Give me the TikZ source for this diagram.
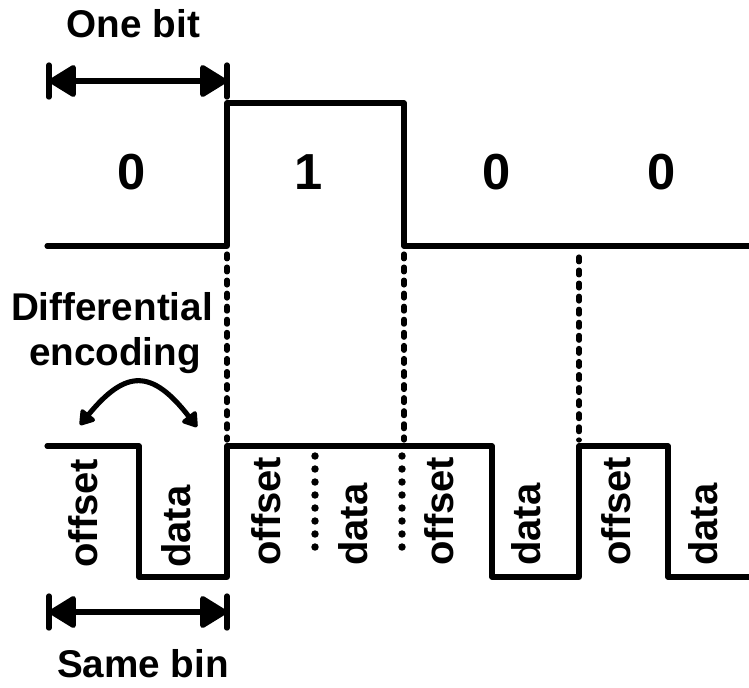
\documentclass[tikz,border=0pt]{standalone}
\usepackage{fontspec}
\setmainfont{Liberation Sans}
\usetikzlibrary{arrows.meta}
\begin{document}
\begin{tikzpicture}[x=0.75pt,y=-0.75pt,
  sig/.style={line width=3.8pt, line join=round, line cap=round},
  guide/.style={line width=3.9pt, line cap=round, dash pattern=on 3.6pt off 6.2pt},
  dotline/.style={line width=5.6pt, line cap=round, dash pattern=on 0pt off 9.75pt},
  lbl/.style={font=\fontsize{29}{34}\selectfont\bfseries, inner sep=0pt, anchor=base},
  bitlbl/.style={font=\fontsize{38}{40}\selectfont\bfseries, inner sep=0pt},
  rlbl/.style={font=\fontsize{30}{34}\selectfont\bfseries, inner sep=0pt, rotate=90, anchor=base west},
  dim/.style={line width=3.8pt, {Triangle[length=22pt,width=26pt,round]}-{Triangle[length=22pt,width=26pt,round]}},
  barend/.style={line width=4pt, line cap=round},
  curv/.style={line width=3.8pt, {Triangle[length=12pt,width=15pt,round]}-{Triangle[length=12pt,width=15pt,round]}}
]
\useasboundingbox (0,0) rectangle (749,687);

% top signal
\draw[sig] (47,246) -- (227,246) -- (227,103) -- (404,103) -- (404,246) -- (752,246);
% bottom signal
\draw[sig] (47,446) -- (139,446) -- (139,577) -- (227,577) -- (227,446) -- (492,446) -- (492,577) -- (579,577) -- (579,446) -- (668,446) -- (668,577) -- (752,577);

% dashed guides
\draw[guide] (227,254) -- (227,440);
\draw[guide] (404,254) -- (404,440);
\draw[guide] (579,257) -- (579,440);
% dotted separators
\draw[dotline] (315,456) -- (315,560);
\draw[dotline] (402,456) -- (402,560);

% one bit arrow
\coordinate (ob1) at (49,81);
\coordinate (ob2) at (227,81);
\draw[dim] (ob1) -- (ob2);
\draw[barend] (49,65) -- (49,97);
\draw[barend] (227,65) -- (227,97);
\node[lbl] (onebit) at (133.5,37) {One bit};

% same bin arrow
\coordinate (sb1) at (49,612);
\coordinate (sb2) at (227,612);
\draw[dim] (sb1) -- (sb2);
\draw[barend] (49,596) -- (49,628);
\draw[barend] (227,596) -- (227,628);
\node[lbl] (samebin) at (143,677) {Same bin};

% bits
\node[bitlbl] (b1) at (132,172) {0};
\node[bitlbl] (b2) at (309,172) {1};
\node[bitlbl] (b3) at (497,172) {0};
\node[bitlbl] (b4) at (662,172) {0};

% differential encoding
\node[lbl] (diff) at (112,320) {Differential};
\node[lbl] (enc) at (115,365) {encoding};
\coordinate (c1) at (80,425);
\coordinate (c2) at (197,427);
\draw[curv] (c1) .. controls (126,369) and (152,369) .. (c2);

% rotated labels
\node[rlbl] (o1) at (97,568) {offset};
\node[rlbl] (d1) at (190,568) {data};
\node[rlbl] (o2) at (280,566) {offset};
\node[rlbl] (d2) at (367,566) {data};
\node[rlbl] (o3) at (453,566) {offset};
\node[rlbl] (d3) at (540,566) {data};
\node[rlbl] (o4) at (630,566) {offset};
\node[rlbl] (d4) at (717,566) {data};
\end{tikzpicture}
\end{document}
